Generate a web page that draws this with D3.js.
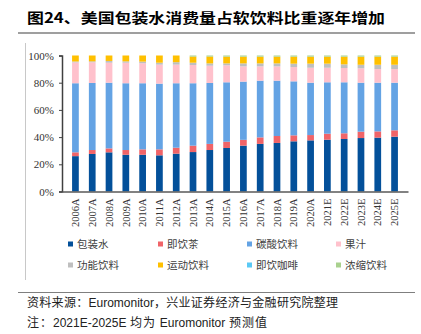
<!DOCTYPE html>
<html>
<head>
<meta charset="utf-8">
<script src="https://cdn.jsdelivr.net/npm/d3@7"></script>
<style>
  body { margin: 0; background: #fff; }
  svg { display: block; }
</style>
</head>
<body>
<div id="chart"></div>
<script>
// years on the x axis
const years = ["2006A","2007A","2008A","2009A","2010A","2011A","2012A","2013A","2014A","2015A",
  "2016A","2017A","2018A","2019A","2020A","2021E","2022E","2023E","2024E","2025E"]

// share of soft drinks, %
const water    = [26.0,27.6,28.8,27.0,27.0,26.6,27.8,29.0,30.5,32.0,33.7,35.0,35.7,36.9,37.6,38.1,38.6,39.3,39.6,40.3]
const tea      = [2.8,2.9,2.9,3.5,4.0,4.4,4.4,4.7,4.5,4.6,4.3,4.8,5.1,4.4,3.9,4.4,4.2,4.7,4.6,4.7]
const carb     = [50.8,49.3,48.3,49.1,48.6,48.3,47.4,45.9,44.8,43.7,42.8,41.7,40.7,39.7,38.5,37.8,37.5,36.0,35.8,35.0]
const juice    = [15.3,15.2,14.7,15.1,14.7,14.0,13.7,13.4,12.7,12.5,11.2,10.5,10.5,10.5,11.0,10.7,10.5,10.6,10.0,10.0]
const energy   = [0.7,0.7,1.3,1.0,1.2,1.4,1.8,1.7,1.7,1.4,2.2,2.2,2.2,2.5,3.0,3.0,2.7,2.6,3.2,3.2]
const sports   = [4.4,4.3,4.0,4.3,4.5,5.3,4.9,4.5,5.0,4.9,4.9,4.9,4.9,5.1,5.1,5.1,5.6,5.9,5.9,5.9]
const coffee   = [0,0,0,0,0,0,0,0,0,0.1,0.1,0.1,0.1,0.1,0.1,0.1,0.1,0.1,0.1,0.1]
const concentr = [0,0,0,0,0,0,0,0.8,0.8,0.8,0.8,0.8,0.8,0.8,0.8,0.8,0.8,0.8,0.8,0.8]

const seriesNames = ["包装水","即饮茶","碳酸饮料","果汁","功能饮料","运动饮料","即饮咖啡","浓缩饮料"]
const seriesData = [water, tea, carb, juice, energy, sports, coffee, concentr]
const colors = ["#03509a","#f06468","#64a3e4","#ffc1cc","#bfbfbf","#ffc000","#5bc9f5","#a9d18e"]
const yTicks = [0, 20, 40, 60, 80, 100]

const width = 421, height = 334
const svg = d3.select("#chart").append("svg")
  .attr("width", width)
  .attr("height", height)

const cjk = "'Noto Sans CJK SC', sans-serif"
const serif = "'Liberation Serif', 'Times New Roman', serif"
const latin = "'Liberation Sans', Arial, sans-serif"

// title
svg.append("text")
  .attr("x", 27).attr("y", 23)
  .attr("textLength", 358)
  .attr("lengthAdjust", "spacingAndGlyphs")
  .style("font-family", cjk)
  .style("font-size", "14px")
  .style("font-weight", "bold")
  .attr("fill", "#000")
  .text("图24、美国包装水消费量占软饮料比重逐年增加")

svg.append("line")
  .attr("x1", 18).attr("x2", 415).attr("y1", 33).attr("y2", 33)
  .attr("stroke", "#7f7f7f").attr("stroke-width", 1.5)

// left frame line
svg.append("line")
  .attr("x1", 25.5).attr("x2", 25.5).attr("y1", 43).attr("y2", 280)
  .attr("stroke", "#c8c8c8").attr("stroke-width", 1)

// table for the stack
const rows = years.map((y, i) => {
  const r = { year: y }
  seriesNames.forEach((n, k) => r[n] = seriesData[k][i])
  return r
})
const stacked = d3.stack().keys(seriesNames)(rows)

const x = d3.scaleBand()
  .domain(years)
  .range([62, 408])
  .padding(0.6)

const yScale = d3.scaleLinear()
  .domain([0, 100])
  .range([191.5, 55.5])

const g = svg.append("g")

g.selectAll("g.layer")
  .data(stacked)
  .enter().append("g")
  .attr("class", "layer")
  .attr("fill", (d, i) => colors[i])
  .selectAll("rect")
  .data(d => d)
  .enter().append("rect")
  .attr("x", d => x(d.data.year))
  .attr("width", x.bandwidth())
  .attr("y", d => yScale(d[1]))
  .attr("height", d => Math.max(0, yScale(d[0]) - yScale(d[1])))

// y axis
const yAxis = svg.append("g")
  .attr("transform", "translate(62,0)")
  .call(d3.axisLeft(yScale).tickValues(yTicks).tickSize(3).tickFormat(d => d + "%"))
yAxis.select(".domain").attr("stroke", "#404040").attr("stroke-width", 1.5)
yAxis.selectAll(".tick line").attr("stroke", "#404040")
yAxis.selectAll("text")
  .attr("x", -8)
  .style("font-family", serif)
  .style("font-size", "11px")
  .attr("fill", "#333")

// x axis
const xAxis = svg.append("g")
  .attr("transform", "translate(0,191.5)")
  .call(d3.axisBottom(x).tickSize(0).tickSizeOuter(0))
xAxis.select(".domain").attr("stroke", "#595959").attr("stroke-width", 1.5)
xAxis.selectAll("text")
  .attr("transform", "rotate(-90)")
  .attr("x", -7)
  .attr("y", 0)
  .attr("dy", "0.35em")
  .style("text-anchor", "end")
  .style("font-family", serif)
  .style("font-size", "10.5px")
  .attr("fill", "#333")

// legend
const legendX = [68, 158, 247, 336]
const legendY = [244, 265]
const legend = svg.append("g")
seriesNames.forEach((n, i) => {
  const lx = legendX[i % 4], ly = legendY[Math.floor(i / 4)]
  legend.append("rect")
    .attr("x", lx).attr("y", ly - 2.5)
    .attr("width", 5).attr("height", 5)
    .attr("fill", colors[i])
  legend.append("text")
    .attr("x", lx + 9).attr("y", ly)
    .attr("dy", "0.35em")
    .style("font-family", cjk)
    .style("font-size", "10.5px")
    .attr("fill", "#404040")
    .text(n)
})

// footer
svg.append("line")
  .attr("x1", 18).attr("x2", 415).attr("y1", 292.5).attr("y2", 292.5)
  .attr("stroke", "#7f7f7f").attr("stroke-width", 1)

const foot1 = svg.append("text")
  .attr("x", 27).attr("y", 307)
  .style("font-family", cjk)
  .style("font-size", "12px")
  .attr("fill", "#222")
foot1.append("tspan").style("letter-spacing", "0.3px").text("资料来源：")
foot1.append("tspan").style("font-family", latin).text("Euromonitor")
foot1.append("tspan").style("letter-spacing", "0.3px").text("，兴业证券经济与金融研究院整理")

const foot2 = svg.append("text")
  .attr("x", 27).attr("y", 327)
  .style("font-family", cjk)
  .style("font-size", "12px")
  .attr("fill", "#222")
foot2.append("tspan").style("letter-spacing", "1px").text("注：")
foot2.append("tspan").style("font-family", latin).text("2021E-2025E")
foot2.append("tspan").style("letter-spacing", "1px").text(" 均为 ")
foot2.append("tspan").style("font-family", latin).text("Euromonitor")
foot2.append("tspan").style("letter-spacing", "1px").text(" 预测值")
</script>
</body>
</html>
